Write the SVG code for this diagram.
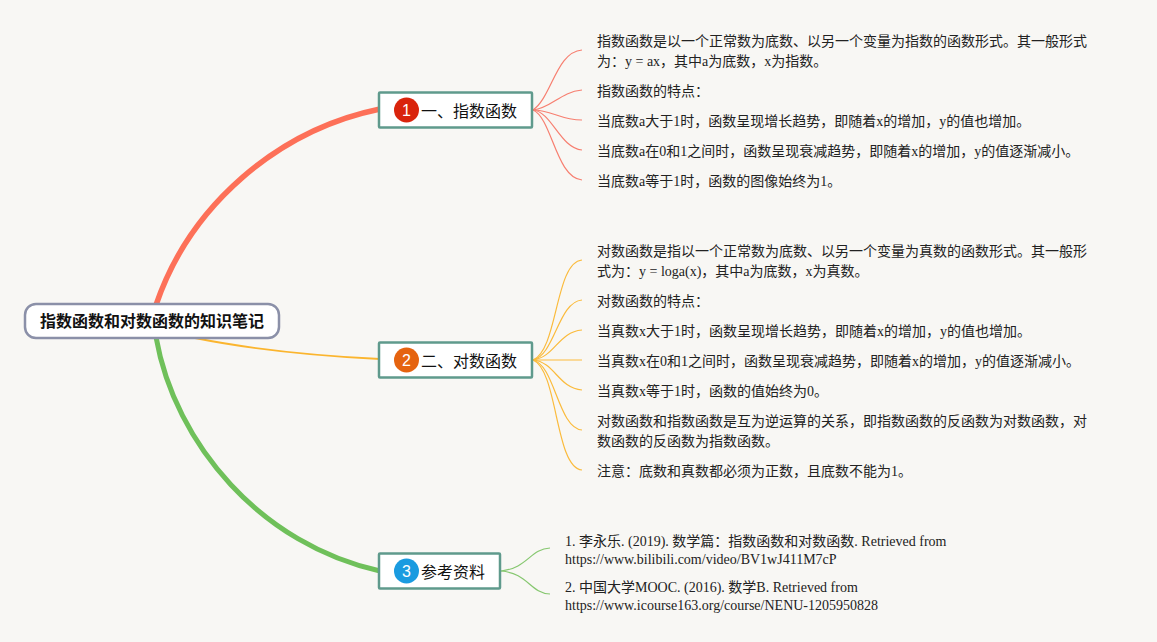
<svg xmlns="http://www.w3.org/2000/svg" width="1157" height="642" viewBox="0 0 1157 642">
<style>
text{font-family:"Liberation Serif","Noto Sans CJK SC",serif;font-size:14px;fill:#222}
.t{font-family:"Liberation Sans","Noto Sans CJK SC",sans-serif;font-size:16px;fill:#111}
.n{font-family:"Liberation Sans",sans-serif;font-size:16px;fill:#fff;text-anchor:middle}
.b{fill:#fff;stroke:#5f9a8c;stroke-width:2.5}
.r{stroke:#f77f70}.o{stroke:#fbbb3c}.g{stroke:#86c76f}
#connectors path{fill:none;stroke-width:1.2}
</style>
<rect width="1157" height="642" fill="#f8f7f4"/>
<g id="connectors">
<path d="M156 305C190 205 278 130 380 109" stroke="#fd7058" style="stroke-width:5.500"/>
<path d="M195 338C250 349 320 356 380 359" stroke="#fbb52e" style="stroke-width:1.800"/>
<path d="M156 337C175 445 262 545 380 571" stroke="#6fc05a" style="stroke-width:5"/>
<path class="r" d="M533 110C552 97 556 52 582 50"/>
<path class="r" d="M533 110C552 108 560 92 582 90"/>
<path class="r" d="M533 110C552 110 560 120 582 120"/>
<path class="r" d="M533 110C552 112 560 148 582 150"/>
<path class="r" d="M533 110C552 118 556 178 582 180"/>
<path class="o" d="M533 360C558 350 555 262 582 260"/>
<path class="o" d="M533 360C555 355 558 302 582 300"/>
<path class="o" d="M533 360C555 357 558 332 582 330"/>
<path class="o" d="M533 360H582"/>
<path class="o" d="M533 360C555 362 558 388 582 390"/>
<path class="o" d="M533 360C555 365 558 428 582 430"/>
<path class="o" d="M533 360C558 370 555 468 582 470"/>
<path class="g" d="M501 571C528 568 530 549 550 548"/>
<path class="g" d="M501 571C528 573 530 593 550 594"/>
</g>
<g id="root"><rect x="25" y="304" width="254" height="34" rx="11" fill="#fff" stroke="#8b90a8" stroke-width="2.500"/><text class="t" x="40" y="327" style="font-weight:700">指数函数和对数函数的知识笔记</text></g>
<g id="n1"><rect class="b" x="379" y="92.500" width="153" height="35" rx="1"/><circle cx="406.500" cy="110" r="12.500" fill="#d9240c"/><text class="n" x="406.500" y="116">1</text><text class="t" x="421" y="117">一、指数函数</text></g>
<g id="n2"><rect class="b" x="379" y="342.500" width="153" height="35" rx="1"/><circle cx="406.500" cy="360" r="12.500" fill="#e5630f"/><text class="n" x="406.500" y="366">2</text><text class="t" x="421" y="367">二、对数函数</text></g>
<g id="n3"><rect class="b" x="379" y="553.500" width="121" height="35" rx="1"/><circle cx="406.500" cy="571" r="12.500" fill="#1a9be0"/><text class="n" x="406.500" y="577">3</text><text class="t" x="421" y="578">参考资料</text></g>
<g id="l1">
<text x="597" y="46">指数函数是以一个正常数为底数、以另一个变量为指数的函数形式。其一般形式</text>
<text x="597" y="66">为：y = ax，其中a为底数，x为指数。</text>
<text x="597" y="96">指数函数的特点：</text>
<text x="597" y="126">当底数a大于1时，函数呈现增长趋势，即随着x的增加，y的值也增加。</text>
<text x="597" y="156">当底数a在0和1之间时，函数呈现衰减趋势，即随着x的增加，y的值逐渐减小。</text>
<text x="597" y="186">当底数a等于1时，函数的图像始终为1。</text>
</g>
<g id="l2">
<text x="597" y="256">对数函数是指以一个正常数为底数、以另一个变量为真数的函数形式。其一般形</text>
<text x="597" y="276">式为：y = loga(x)，其中a为底数，x为真数。</text>
<text x="597" y="306">对数函数的特点：</text>
<text x="597" y="336">当真数x大于1时，函数呈现增长趋势，即随着x的增加，y的值也增加。</text>
<text x="597" y="366">当真数x在0和1之间时，函数呈现衰减趋势，即随着x的增加，y的值逐渐减小。</text>
<text x="597" y="396">当真数x等于1时，函数的值始终为0。</text>
<text x="597" y="426">对数函数和指数函数是互为逆运算的关系，即指数函数的反函数为对数函数，对</text>
<text x="597" y="446">数函数的反函数为指数函数。</text>
<text x="597" y="476">注意：底数和真数都必须为正数，且底数不能为1。</text>
</g>
<g id="l3">
<text x="565" y="546">1. 李永乐. (2019). 数学篇：指数函数和对数函数. Retrieved from</text>
<text x="565" y="564">https://www.bilibili.com/video/BV1wJ411M7cP</text>
<text x="565" y="592">2. 中国大学MOOC. (2016). 数学B. Retrieved from</text>
<text x="565" y="610">https://www.icourse163.org/course/NENU-1205950828</text>
</g>
</svg>
